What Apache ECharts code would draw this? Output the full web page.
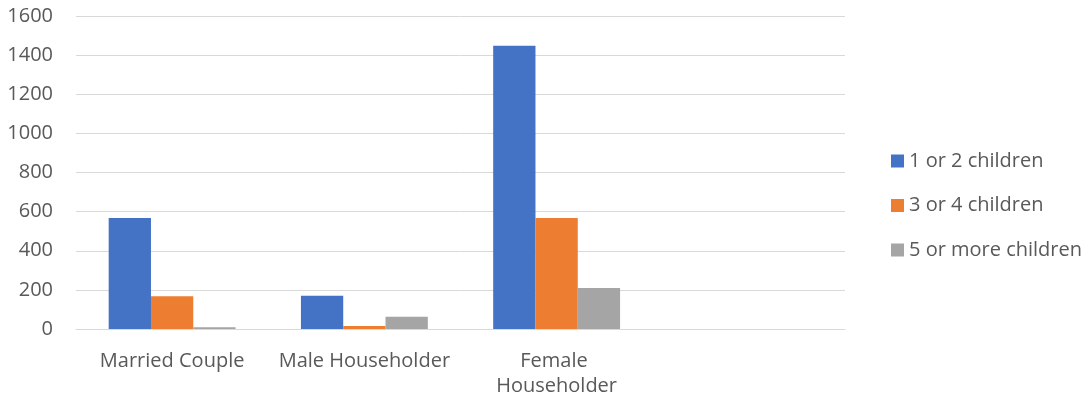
<!DOCTYPE html>
<html>
<head>
<meta charset="utf-8">
<script src="https://cdn.jsdelivr.net/npm/echarts@6/dist/echarts.min.js"></script>
<style>html,body{margin:0;padding:0;background:#fff;}#c{width:1087px;height:400px;}</style>
</head>
<body>
<div id="c"></div>
<script>
const categories = ["Married Couple", "Male Householder", "Female Householder", ""];
const seriesNames = ["1 or 2 children", "3 or 4 children", "5 or more children"];
const oneOrTwo = [567, 170, 1448, null];
const threeOrFour = [167, 15, 567, null];
const fiveOrMore = [9, 63, 210, null];
const yTicks = { min: 0, max: 1600, interval: 200 };

const colors = ["#4472C4", "#ED7D31", "#A5A5A5"];
const font = "'Open Sans', sans-serif";
const chart = echarts.init(document.getElementById('c'));
chart.setOption({
  animation: false,
  color: colors,
  grid: { left: 76, right: 242, top: 16, bottom: 71, containLabel: false },
  legend: {
    orient: 'vertical', left: 886, top: 145,
    itemWidth: 13, itemHeight: 13, itemGap: 22.5, icon: 'rect',
    textStyle: { fontFamily: font, fontSize: 20, color: '#595959', lineHeight: 22 },
    data: seriesNames
  },
  xAxis: {
    type: 'category', data: categories,
    axisLine: { show: true, lineStyle: { color: '#D9D9D9', width: 1 } },
    axisTick: { show: false },
    axisLabel: { fontFamily: font, fontSize: 20, color: '#595959', lineHeight: 25, margin: 20,
      width: 185, overflow: 'break', interval: 0 }
  },
  yAxis: {
    type: 'value', min: yTicks.min, max: yTicks.max, interval: yTicks.interval,
    axisLine: { show: false }, axisTick: { show: false },
    splitLine: { lineStyle: { color: '#D9D9D9', width: 1 } },
    axisLabel: { fontFamily: font, fontSize: 20, color: '#595959', margin: 23,
      formatter: function (v) { return String(v); } }
  },
  series: [
    { name: seriesNames[0], type: 'bar', data: oneOrTwo, barGap: '0%', barCategoryGap: '34%' },
    { name: seriesNames[1], type: 'bar', data: threeOrFour, barGap: '0%', barCategoryGap: '34%' },
    { name: seriesNames[2], type: 'bar', data: fiveOrMore, barGap: '0%', barCategoryGap: '34%' }
  ]
});
</script>
</body>
</html>
